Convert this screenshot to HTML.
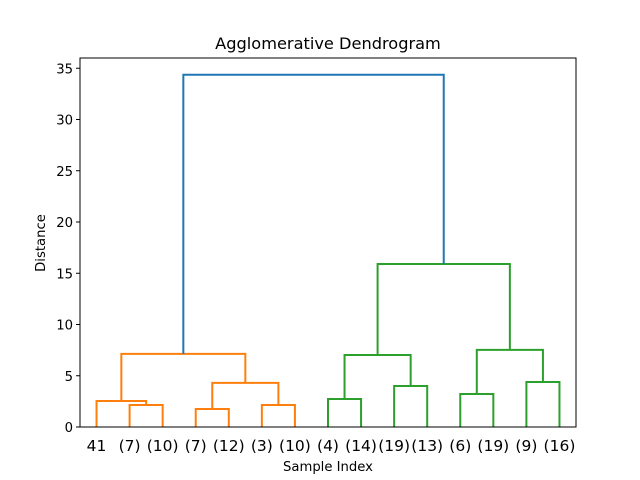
<!DOCTYPE html>
<html><head><meta charset="utf-8"><style>
body{margin:0;background:#fff}
svg{display:block;font-family:"DejaVu Sans","Liberation Sans",sans-serif}
</style></head><body>
<svg id="chart" width="640" height="480" viewBox="0 0 640 480" xmlns="http://www.w3.org/2000/svg">
<rect x="0" y="0" width="640" height="480" fill="#fff"/>
<text x="328" y="49" text-anchor="middle" font-size="16.2">Agglomerative Dendrogram</text>
<text x="328" y="471" text-anchor="middle" font-size="13.2">Sample Index</text>
<text x="45" y="243" text-anchor="middle" font-size="13.2" transform="rotate(-90 45 243)">Distance</text>
<g id="links"></g>
<g id="yticks"></g>
<g id="xticks"></g>
<rect x="80" y="58" width="496" height="369" fill="none" stroke="#000" stroke-width="1"/>
</svg>
<script>
const leafLabels = ["41","(7)","(10)","(7)","(12)","(3)","(10)","(4)","(14)","(19)","(13)","(6)","(19)","(9)","(16)"];
const mergeLeft  = [1,0,3,5,17,16,7,9,21,11,13,24,23,20];
const mergeRight = [2,15,4,6,18,19,8,10,22,12,14,25,26,27];
const mergeHeight = [2.15,2.54,1.76,2.15,4.3,7.13,2.73,4.0,7.03,3.22,4.39,7.52,15.9,34.37];
const mergeColor = ["o","o","o","o","o","o","g","g","g","g","g","g","g","b"];
const yTicks = [0,5,10,15,20,25,30,35];

const X0=80,X1=576,Y0=427,Y1=58,YMAX=36.0;
const n=leafLabels.length;
const xScale=i=>X0+(X1-X0)*(5+10*i)/(10*n);
const yScale=v=>Y0-(Y0-Y1)*v/YMAX;
const colors={o:"#ff7f0e",g:"#2ca02c",b:"#1f77b4"};
const NS="http://www.w3.org/2000/svg";
const nodeX=[],nodeH=[];
for(let i=0;i<n;i++){nodeX.push(xScale(i));nodeH.push(0);}
const lg=document.getElementById('links');
for(let k=0;k<mergeLeft.length;k++){
  const a=mergeLeft[k],b=mergeRight[k],h=mergeHeight[k];
  const xa=nodeX[a],xb=nodeX[b];
  const p=document.createElementNS(NS,'polyline');
  p.setAttribute('points',`${xa},${yScale(nodeH[a])} ${xa},${yScale(h)} ${xb},${yScale(h)} ${xb},${yScale(nodeH[b])}`);
  p.setAttribute('fill','none');p.setAttribute('stroke',colors[mergeColor[k]]);p.setAttribute('stroke-width','2');
  
  
  lg.appendChild(p);
  nodeX.push((xa+xb)/2);nodeH.push(h);
}
const yg=document.getElementById('yticks');
yTicks.forEach(v=>{
  const y=yScale(v);
  const l=document.createElementNS(NS,'line');
  l.setAttribute('x1',X0-4);l.setAttribute('x2',X0);l.setAttribute('y1',y);l.setAttribute('y2',y);l.setAttribute('stroke','#000');
  
  
  yg.appendChild(l);
  const t=document.createElementNS(NS,'text');
  t.setAttribute('x',X0-7);t.setAttribute('y',y+5);t.setAttribute('text-anchor','end');t.setAttribute('font-size','13.2');
  t.textContent=v;
  
  
  yg.appendChild(t);
});
const xg=document.getElementById('xticks');
leafLabels.forEach((s,i)=>{
  const t=document.createElementNS(NS,'text');
  t.setAttribute('x',xScale(i));t.setAttribute('y',451);t.setAttribute('text-anchor','middle');t.setAttribute('font-size','15.5');
  t.textContent=s;
  
  
  xg.appendChild(t);
});
</script>
</body></html>
